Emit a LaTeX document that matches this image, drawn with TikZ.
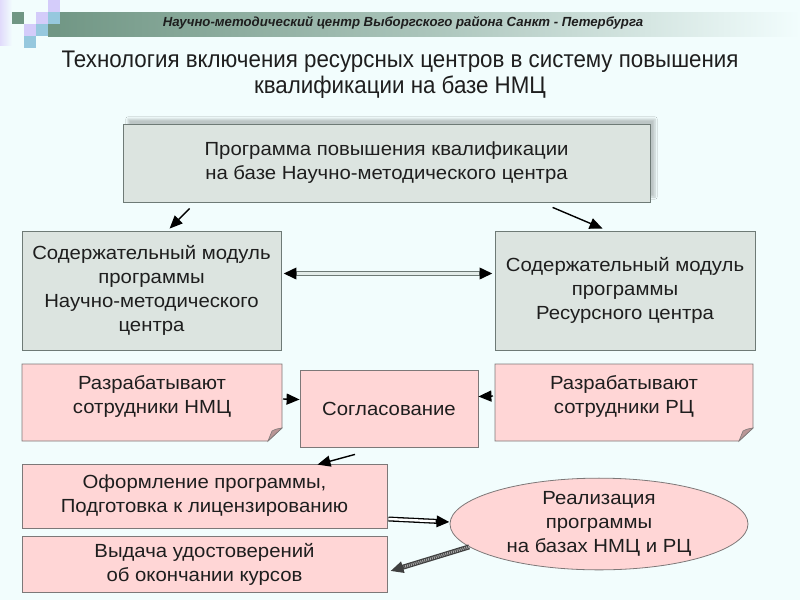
\documentclass[tikz,border=0pt]{standalone}
\usepackage{fontspec}
\setmainfont{Liberation Sans}
\newfontfamily\titlefont[FakeStretch=0.93]{Liberation Sans}
\newfontfamily\bodyfont[FakeStretch=1.07]{Liberation Sans}
\usetikzlibrary{arrows.meta,shapes.geometric,shadows.blur,calc}
\definecolor{bgc}{RGB}{242,253,253}
\definecolor{greyfill}{RGB}{220,228,224}
\definecolor{greyline}{RGB}{110,122,118}
\definecolor{pinkfill}{RGB}{255,214,214}
\definecolor{pinkline}{RGB}{125,120,120}
\definecolor{foldc}{RGB}{185,150,150}
\definecolor{bandc}{RGB}{112,150,132}
\definecolor{lav}{RGB}{212,204,250}
\definecolor{lblue}{RGB}{150,200,222}
\definecolor{txt}{RGB}{30,30,30}
\begin{document}
\begin{tikzpicture}[x=1pt,y=-1pt,
  every node/.style={text=txt},
  bodytext/.style={font=\bodyfont\fontsize{19}{24}\selectfont},
  greybox/.style={draw=greyline,fill=greyfill,line width=0.8pt,align=center,bodytext,inner sep=0pt},
  pinkbox/.style={draw=pinkline,fill=pinkfill,line width=0.8pt,align=center,bodytext,inner sep=0pt},
  notebox/.style={draw=none,fill=none,align=center,bodytext,inner sep=0pt},
  noteshape/.style={draw=pinkline,fill=pinkfill,line width=0.8pt},
  foldshape/.style={draw=pinkline,fill=foldc,line width=0.6pt},
  tip/.style={-{Triangle[length=13pt,width=11pt]}},
  arr/.style={line width=1.4pt,tip},
  shaft/.style={line width=5pt},
]
\useasboundingbox (0,0) rectangle (800,600);
\fill[bgc] (0,0) rectangle (800,600);
% header decoration
\shade[left color=lav!70,right color=bgc] (0,0) rectangle (12,45);
\shade[left color=bandc,right color=bgc,middle color=bandc!55!bgc] (48,12) rectangle (800,36);
\fill[bandc] (12,12) rectangle (24,24);
\fill[lav] (48,0) rectangle (60,12);
\fill[lav] (36,12) rectangle (48,24);
\fill[lblue] (48,12) rectangle (60,24);
\fill[lav] (24,24) rectangle (36,36);
\fill[lblue] (36,24) rectangle (48,36);
\fill[bandc] (48,24) rectangle (60,36);
\fill[lblue] (24,36) rectangle (36,48);
\node[font=\fontsize{13.2}{15}\selectfont\bfseries\itshape] (head) at (403,23)
  {Научно-методический центр Выборгского района Санкт - Петербурга};
% title
\node[font=\titlefont\fontsize{24}{26}\selectfont,align=center] (title) at (400,75)
  {Технология включения ресурсных центров в систему повышения\\квалификации на базе НМЦ};
% top box
\node[greybox,minimum width=527pt,minimum height=78pt,
  blur shadow={shadow xshift=5pt,shadow yshift=5pt,shadow blur steps=6,shadow opacity=22}]
  (top) at (386.5,163) {Программа повышения квалификации\\на базе Научно-методического центра};
% module boxes
\node[greybox,minimum width=259pt,minimum height=119pt] (modL) at (151.5,290.5)
  {Содержательный модуль\\программы\\Научно-методического\\центра};
\node[greybox,minimum width=260pt,minimum height=119pt] (modR) at (625,290.5)
  {Содержательный модуль\\программы\\Ресурсного центра};
% note shapes with folded corners
\foreach \xa/\xb in {22/282,495/753}{
  \draw[noteshape] (\xa,364) -- (\xb,364) -- (\xb,428) -- (\xb-14,441) -- (\xa,441) -- cycle;
  \draw[foldshape] (\xb,428) .. controls (\xb-6,429) .. (\xb-10,431)
     .. controls (\xb-12,436) .. (\xb-14,441) -- cycle;
}
\node[notebox,minimum width=260pt] (devL) at (152,396)
  {Разрабатывают\\сотрудники НМЦ};
\node[notebox,minimum width=258pt] (devR) at (624,396)
  {Разрабатывают\\сотрудники РЦ};
\node[pinkbox,minimum width=178pt,minimum height=77pt] (agree) at (389,408.5) {Согласование};
\node[pinkbox,minimum width=365pt,minimum height=64pt] (form) at (204.5,496)
  {Оформление программы,\\Подготовка к лицензированию};
\node[pinkbox,minimum width=365pt,minimum height=56pt] (issue) at (204.5,564)
  {Выдача удостоверений\\об окончании курсов};
\node[ellipse,draw=pinkline,fill=pinkfill,line width=0.8pt,minimum width=298pt,minimum height=74pt,
  inner sep=0pt,align=center,bodytext] (ell) at (599,524)
  {Реализация\\программы\\на базах НМЦ и РЦ};
% connectors
\draw[arr] ([xshift=67pt,yshift=-6pt]top.south west) -- ([xshift=148pt,yshift=2pt]modL.north west);
\draw[arr] ([xshift=430pt,yshift=-5pt]top.south west) -- ([xshift=108pt,yshift=2pt]modR.north west);
% double connector between modules
\draw[shaft,greyline,{Triangle[length=13pt,width=11pt,color=black]}-{Triangle[length=13pt,width=11pt,color=black]}]
  ([xshift=2pt,yshift=17pt]modL.east) -- ([xshift=-2pt,yshift=17pt]modR.west);
\draw[line width=2.6pt,color=greyfill!70!bgc,shorten <=14pt,shorten >=14pt]
  ([xshift=2pt,yshift=17pt]modL.east) -- ([xshift=-2pt,yshift=17pt]modR.west);
\draw[arr] ([xshift=131pt,yshift=-3pt]devL.center) -- ([yshift=9pt]agree.west);
\draw[arr] ([xshift=-131pt]devR.center) -- ([yshift=12pt]agree.east);
\draw[arr] ([xshift=-34pt,yshift=-7pt]agree.south) -- ([xshift=113pt,yshift=-1pt]form.north);
% form -> ellipse
\draw[shaft,black,tip] ([xshift=1pt,yshift=-23pt]form.east) -- ([yshift=2pt]ell.west);
\draw[line width=2.4pt,white,shorten >=14pt]
  ([xshift=1pt,yshift=-23pt]form.east) -- ([yshift=2pt]ell.west);
% ellipse -> issue
\draw[shaft,black!75,tip] (ell.190) -- ([xshift=3pt,yshift=-7pt]issue.east);
\draw[line width=2.6pt,black!35,dash pattern=on 1pt off 1pt,shorten >=14pt]
  (ell.190) -- ([xshift=3pt,yshift=-7pt]issue.east);
\end{tikzpicture}
\end{document}
